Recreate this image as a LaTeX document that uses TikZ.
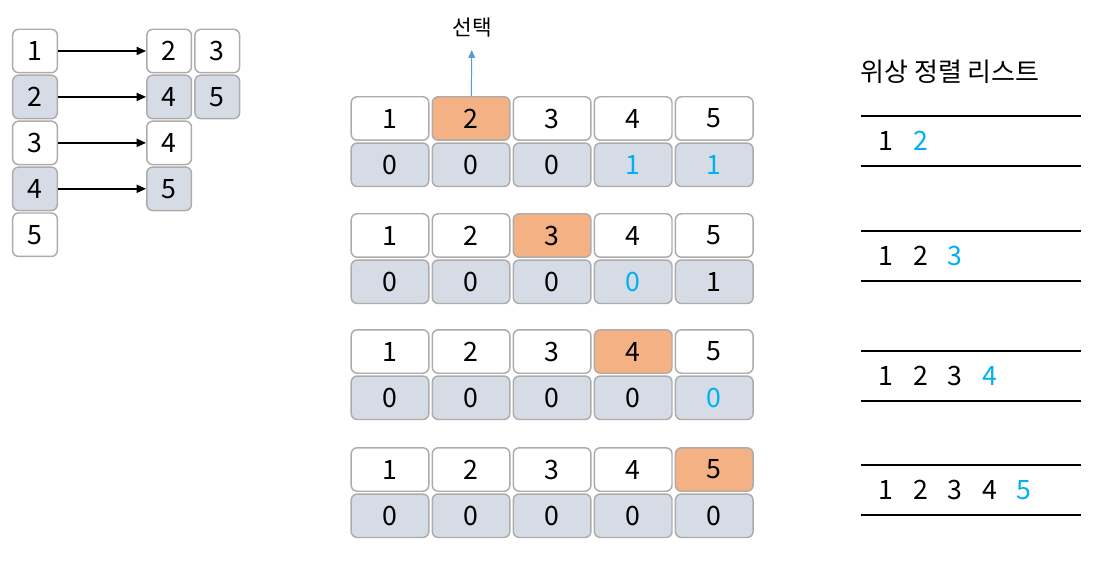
\documentclass[tikz,border=0pt]{standalone}
\usepackage{fontspec}
\setmainfont{Noto Sans CJK KR}
\usetikzlibrary{positioning, arrows.meta}
\definecolor{cellline}{RGB}{175,171,171}
\definecolor{cellgray}{RGB}{214,220,229}
\definecolor{cellpick}{RGB}{244,177,131}
\definecolor{newblue}{RGB}{0,176,240}
\definecolor{arrowblue}{RGB}{91,155,213}
\tikzset{
  cell/.style = {draw=cellline, line width=1.1pt, rounded corners=4.5pt,
    fill=white, minimum width=58.2pt, minimum height=32.6pt, inner sep=0pt,
    font=\fontsize{20}{22}\selectfont},
  count/.style = {cell, fill=cellgray},
  picked/.style = {cell, fill=cellpick},
  listbox/.style = {cell, minimum width=33.5pt},
  listboxgray/.style = {listbox, fill=cellgray},
  edgearrow/.style = {-{Triangle[length=7pt, width=6pt]}, line width=1.1pt},
  pickarrow/.style = {-{Triangle[length=6pt, width=5pt]}, line width=0.75pt, draw=arrowblue, fill=arrowblue},
  entry/.style = {inner sep=0pt, font=\fontsize{20}{22}\selectfont},
  rule/.style = {line width=0.9pt}
}

\begin{document}
\begin{tikzpicture}[x=0.75pt, y=-0.75pt]
  \useasboundingbox (0,0) rectangle (1100,574);

  % adjacency list
  \node[listbox] (v1) at (35,51) {1};
  \node[listboxgray, below = 0.75pt of v1] (v2) {2};
  \node[listbox, below = 0.75pt of v2] (v3) {3};
  \node[listboxgray, below = 0.75pt of v3] (v4) {4};
  \node[listbox, below = 0.75pt of v4] (v5) {5};

  \node[listbox, right = 66pt of v1] (e12) {2};
  \node[listbox, right = 1.5pt of e12] (e13) {3};
  \node[listboxgray, right = 66pt of v2] (e24) {4};
  \node[listboxgray, right = 1.5pt of e24] (e25) {5};
  \node[listbox, right = 66pt of v3] (e34) {4};
  \node[listboxgray, right = 66pt of v4] (e45) {5};

  \draw[edgearrow] (v1) -- (e12);
  \draw[edgearrow] (v2) -- (e24);
  \draw[edgearrow] (v3) -- (e34);
  \draw[edgearrow] (v4) -- (e45);

  % step 1
  \node[cell] (step1v1) at (390,118.5) {1};
  \node[picked, right = 1.5pt of step1v1] (step1v2) {2};
  \node[cell, right = 1.5pt of step1v2] (step1v3) {3};
  \node[cell, right = 1.5pt of step1v3] (step1v4) {4};
  \node[cell, right = 1.5pt of step1v4] (step1v5) {5};
  \node[count, below = 1pt of step1v1] (step1in1) {0};
  \node[count, below = 1pt of step1v2] (step1in2) {0};
  \node[count, below = 1pt of step1v3] (step1in3) {0};
  \node[count, below = 1pt of step1v4, text=newblue] (step1in4) {1};
  \node[count, below = 1pt of step1v5, text=newblue] (step1in5) {1};

  \node[inner sep=0pt, font=\fontsize{16}{18}\selectfont] (select) at (472,28) {선택};
  \draw[pickarrow, shorten >=9pt] (step1v2) -- (select);

  % step 2
  \node[cell] (step2v1) at (390,235.5) {1};
  \node[cell, right = 1.5pt of step2v1] (step2v2) {2};
  \node[picked, right = 1.5pt of step2v2] (step2v3) {3};
  \node[cell, right = 1.5pt of step2v3] (step2v4) {4};
  \node[cell, right = 1.5pt of step2v4] (step2v5) {5};
  \node[count, below = 1pt of step2v1] (step2in1) {0};
  \node[count, below = 1pt of step2v2] (step2in2) {0};
  \node[count, below = 1pt of step2v3] (step2in3) {0};
  \node[count, below = 1pt of step2v4, text=newblue] (step2in4) {0};
  \node[count, below = 1pt of step2v5] (step2in5) {1};

  % step 3
  \node[cell] (step3v1) at (390,351.5) {1};
  \node[cell, right = 1.5pt of step3v1] (step3v2) {2};
  \node[cell, right = 1.5pt of step3v2] (step3v3) {3};
  \node[picked, right = 1.5pt of step3v3] (step3v4) {4};
  \node[cell, right = 1.5pt of step3v4] (step3v5) {5};
  \node[count, below = 1pt of step3v1] (step3in1) {0};
  \node[count, below = 1pt of step3v2] (step3in2) {0};
  \node[count, below = 1pt of step3v3] (step3in3) {0};
  \node[count, below = 1pt of step3v4] (step3in4) {0};
  \node[count, below = 1pt of step3v5, text=newblue] (step3in5) {0};

  % step 4
  \node[cell] (step4v1) at (390,469.5) {1};
  \node[cell, right = 1.5pt of step4v1] (step4v2) {2};
  \node[cell, right = 1.5pt of step4v2] (step4v3) {3};
  \node[cell, right = 1.5pt of step4v3] (step4v4) {4};
  \node[picked, right = 1.5pt of step4v4] (step4v5) {5};
  \node[count, below = 1pt of step4v1] (step4in1) {0};
  \node[count, below = 1pt of step4v2] (step4in2) {0};
  \node[count, below = 1pt of step4v3] (step4in3) {0};
  \node[count, below = 1pt of step4v4] (step4in4) {0};
  \node[count, below = 1pt of step4v5] (step4in5) {0};

  % sorted list
  \node[inner sep=0pt, font=\fontsize{19.5}{21}\selectfont] (listTitle) at (950,72) {위상 정렬 리스트};

  \draw[rule] (861,116) -- (1081,116);
  \draw[rule] (861,166) -- (1081,166);
  \node[entry] (list1n1) at (886,141) {1};
  \node[entry, text=newblue] (list1n2) at (920.5,141) {2};

  \draw[rule] (861,231) -- (1081,231);
  \draw[rule] (861,281) -- (1081,281);
  \node[entry] (list2n1) at (886,256) {1};
  \node[entry] (list2n2) at (920.5,256) {2};
  \node[entry, text=newblue] (list2n3) at (955,256) {3};

  \draw[rule] (861,351) -- (1081,351);
  \draw[rule] (861,401) -- (1081,401);
  \node[entry] (list3n1) at (886,376) {1};
  \node[entry] (list3n2) at (920.5,376) {2};
  \node[entry] (list3n3) at (955,376) {3};
  \node[entry, text=newblue] (list3n4) at (989.5,376) {4};

  \draw[rule] (861,465) -- (1081,465);
  \draw[rule] (861,515) -- (1081,515);
  \node[entry] (list4n1) at (886,490) {1};
  \node[entry] (list4n2) at (920.5,490) {2};
  \node[entry] (list4n3) at (955,490) {3};
  \node[entry] (list4n4) at (989.5,490) {4};
  \node[entry, text=newblue] (list4n5) at (1024,490) {5};
\end{tikzpicture}
\end{document}
